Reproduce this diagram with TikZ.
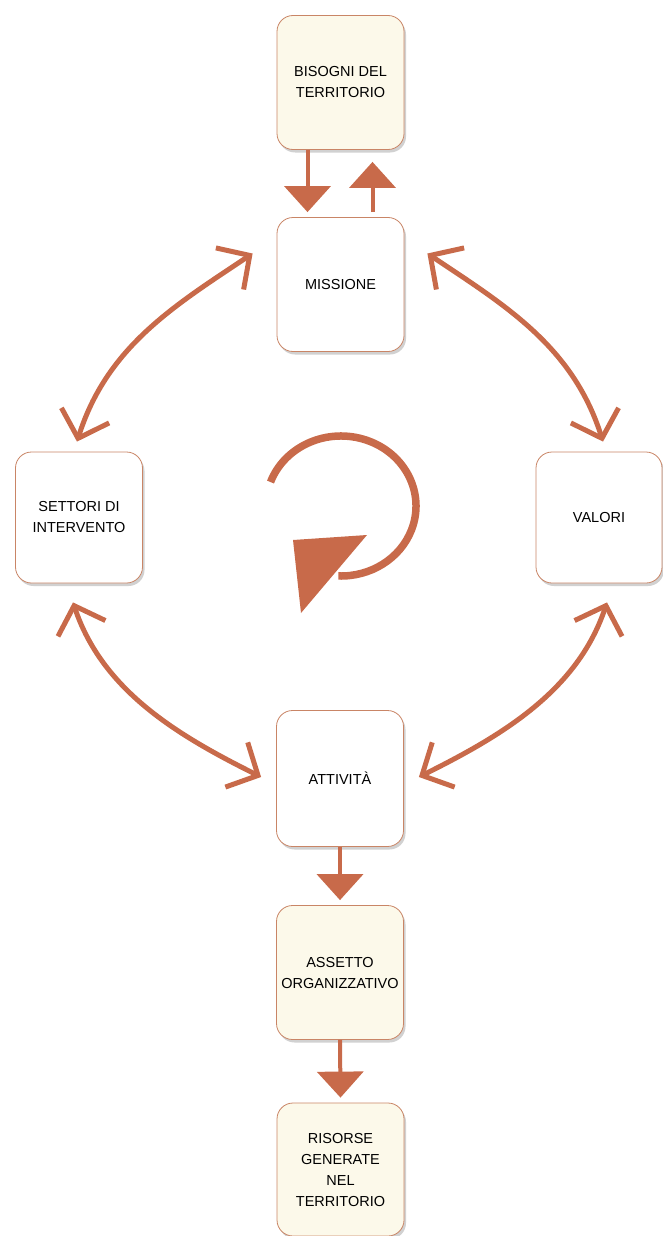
\documentclass[tikz,border=0pt]{standalone}
\usepackage{fontspec}
\setmainfont{Liberation Sans}
\usetikzlibrary{arrows.meta,shadows,calc}
\definecolor{rust}{HTML}{C86A4A}
\definecolor{cream}{HTML}{FCF9EA}
\definecolor{edge}{HTML}{C98566}
\begin{document}
\begin{tikzpicture}[x=1pt,y=-1pt,
  card/.style={draw=edge, line width=0.8pt, rounded corners=16pt,
    minimum width=127pt, minimum height=134pt, inner sep=0pt,
    fill=white, align=center, font=\fontsize{14.5}{21}\selectfont,
    drop shadow={shadow xshift=2pt, shadow yshift=-3pt, opacity=0.3, fill=black!60}},
  warm/.style={card, fill=cream},
  flow/.style={draw=rust, line width=4pt, -{Triangle[length=26pt,width=46pt]}},
  ring/.style={draw=rust, line width=5pt,
    {Straight Barb[length=24pt,width=50pt]}-{Straight Barb[length=24pt,width=50pt]}},
]
\useasboundingbox (0,0) rectangle (662,1236);

% boxes
\node[warm] (bis) at (340.5,82.5) {BISOGNI DEL\\TERRITORIO};
\node[card] (mis) at (340.5,284.5) {MISSIONE};
\node[card, minimum height=131pt] (set) at (79,517.5) {SETTORI DI\\INTERVENTO};
\node[card, minimum height=131pt, minimum width=126pt] (val) at (599,517.5) {VALORI};
\node[card, minimum height=136pt] (att) at (340,778.5) {ATTIVITÀ};
\node[warm] (ass) at (340,972.5) {ASSETTO\\ORGANIZZATIVO};
\node[warm, minimum height=133pt] (ris) at (340.5,1169.5) {RISORSE\\GENERATE\\NEL\\TERRITORIO};

% straight links
\draw[flow] ([xshift=-33pt]bis.south) -- ([shift={(-33,-5)}]mis.north);
\draw[flow] ([shift={(32,-5)}]mis.north) -- ([shift={(32,12)}]bis.south);
\draw[flow] (att.south) -- ([yshift=5pt]ass.north);
\draw[flow] (ass.south) -- ([yshift=5pt]ris.north);

% the ring of double arrows
\draw[ring] ([shift={(-2,-10)}]set.north) .. controls +(30,-95) and +(-78,52) .. ([shift={(-24,-31)}]mis.west);
\draw[ring] ([shift={(4,-10)}]val.north) .. controls +(-30,-95) and +(78,52) .. ([shift={(23,-31)}]mis.east);
\draw[ring] ([shift={(-6,19)}]set.south) .. controls +(30,90) and +(-80,-40) .. ([shift={(-15,-1.5)}]att.west);
\draw[ring] ([shift={(8,19)}]val.south) .. controls +(-30,90) and +(80,-40) .. ([shift={(15,-1.5)}]att.east);

% central turning arrow
\coordinate (hub) at (341,506);
\draw[rust, line width=7.5pt] (hub) ++(200:75 and 70) arc[start angle=200, end angle=452, x radius=75, y radius=70];
\fill[rust] ($(hub)+(-48,34)$) -- ($(hub)+(26,29)$) -- ($(hub)+(-40,107)$) -- cycle;
\end{tikzpicture}
\end{document}
